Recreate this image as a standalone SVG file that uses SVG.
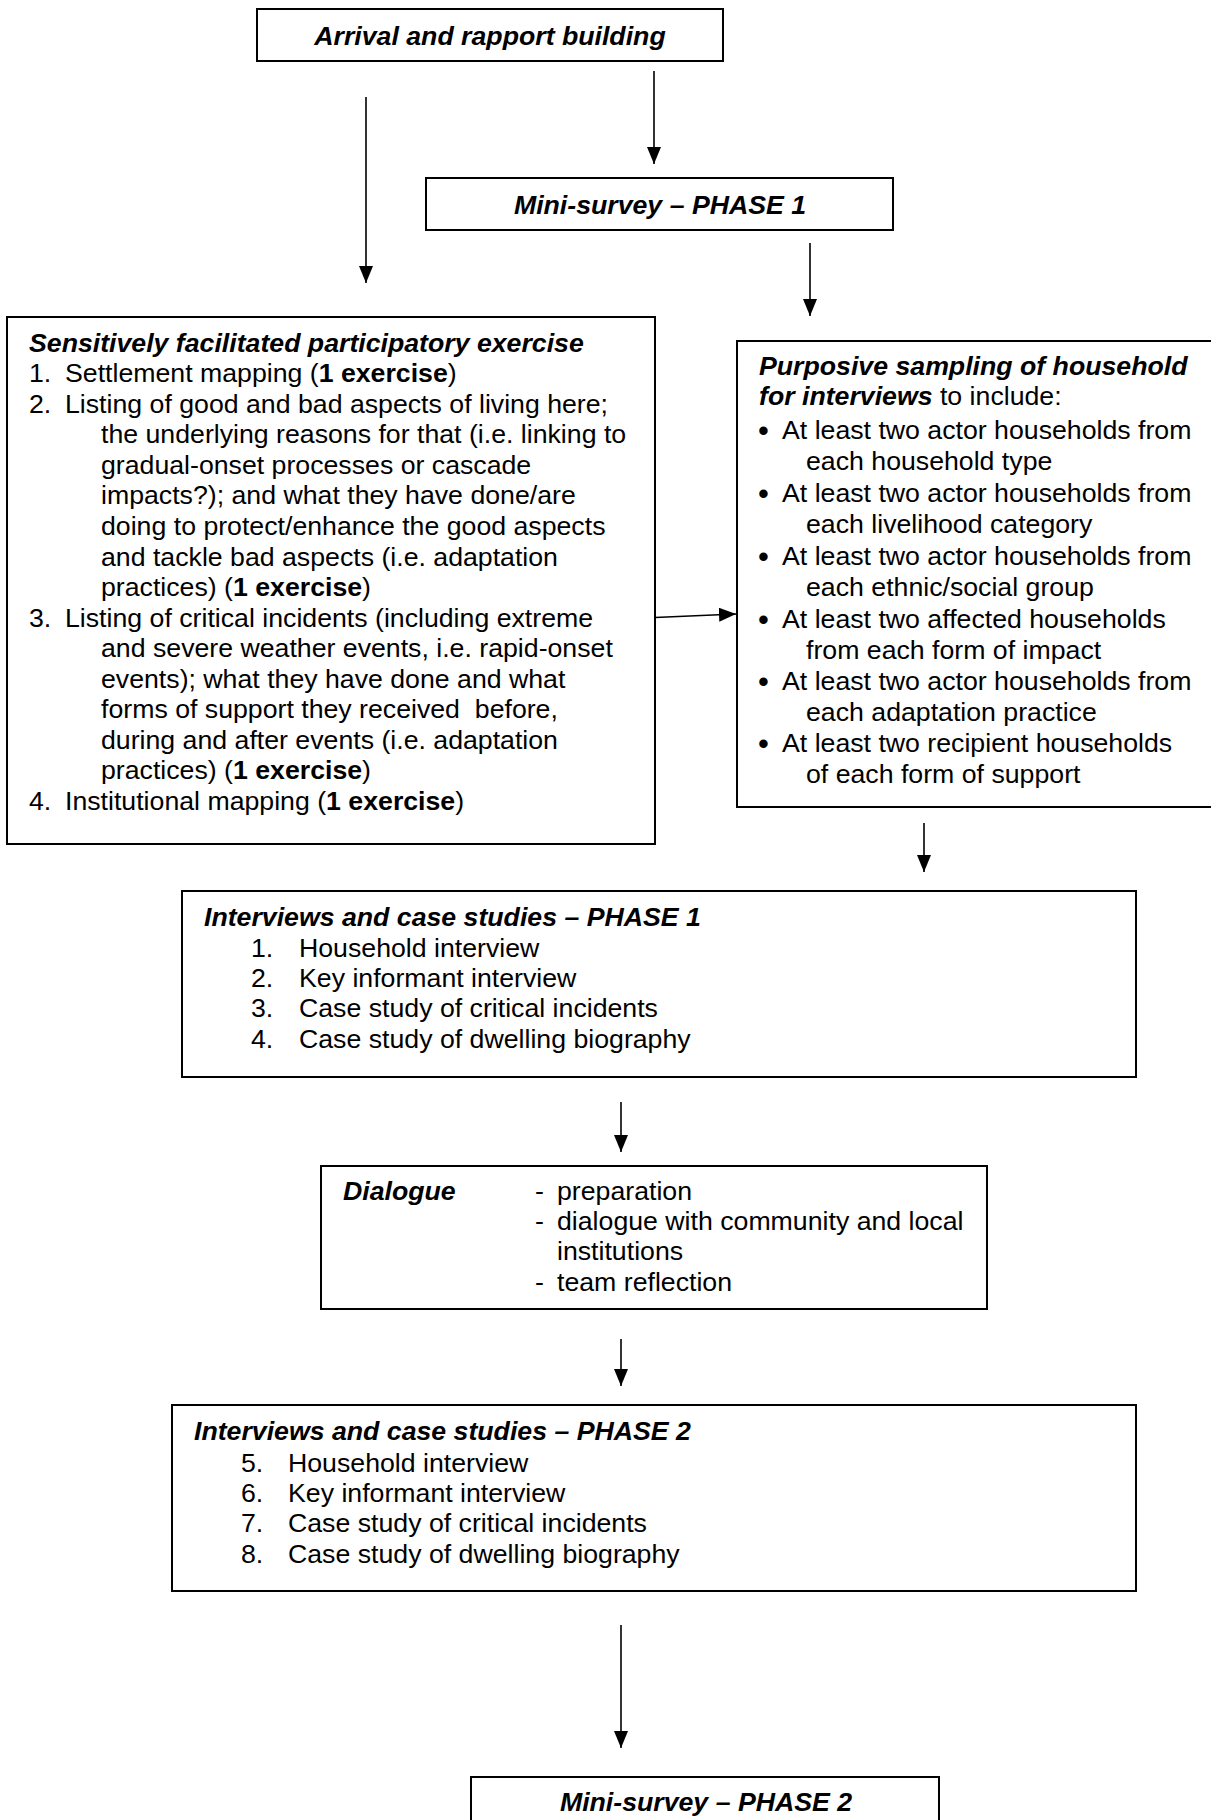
<svg xmlns="http://www.w3.org/2000/svg" width="1211" height="1820" viewBox="0 0 1211 1820">
<style>
text{font-family:"Liberation Sans",Arial,Helvetica,sans-serif;font-size:26.7px;fill:#000}
.bi{font-weight:bold;font-style:italic}
.b{font-weight:bold}
.bul{font-size:31px}
.box{fill:#fff;stroke:#000;stroke-width:2}
.arr{stroke:#000;stroke-width:1.6;fill:none}
.c{text-anchor:middle}
</style>
<defs>
<marker id="ah" markerUnits="userSpaceOnUse" markerWidth="18" markerHeight="14" viewBox="0 0 18 14" refX="17" refY="7" orient="auto">
<path d="M0,0 L17,7 L0,14 Z" fill="#000"/>
</marker>
</defs>
<rect width="1211" height="1820" fill="#fff"/>
<g id="connectors">
<line class="arr" x1="366" y1="97" x2="366" y2="283" marker-end="url(#ah)"/>
<line class="arr" x1="654" y1="71" x2="654" y2="164" marker-end="url(#ah)"/>
<line class="arr" x1="810" y1="243" x2="810" y2="316" marker-end="url(#ah)"/>
<line class="arr" x1="655" y1="617.5" x2="736" y2="614" marker-end="url(#ah)"/>
<line class="arr" x1="924" y1="823" x2="924" y2="872" marker-end="url(#ah)"/>
<line class="arr" x1="621" y1="1102" x2="621" y2="1152" marker-end="url(#ah)"/>
<line class="arr" x1="621" y1="1339" x2="621" y2="1386" marker-end="url(#ah)"/>
<line class="arr" x1="621" y1="1625" x2="621" y2="1748" marker-end="url(#ah)"/>
</g>
<g id="arrival">
<rect class="box" x="257" y="9" width="466" height="52"/>
<text class="bi c" x="490" y="45">Arrival and rapport building</text>
</g>
<g id="minisurvey1">
<rect class="box" x="426" y="178" width="467" height="52"/>
<text class="bi c" x="660" y="214">Mini-survey – PHASE 1</text>
</g>
<g id="participatory">
<rect class="box" x="7" y="317" width="648" height="527"/>
<text class="bi" x="29" y="352">Sensitively facilitated participatory exercise</text>
<text x="29" y="382">1.</text><text x="65" y="382">Settlement mapping (<tspan class="b">1 exercise</tspan>)</text>
<text x="29" y="413">2.</text><text x="65" y="413">Listing of good and bad aspects of living here;</text>
<text x="101" y="443">the underlying reasons for that (i.e. linking to</text>
<text x="101" y="474">gradual-onset processes or cascade</text>
<text x="101" y="504">impacts?); and what they have done/are</text>
<text x="101" y="535">doing to protect/enhance the good aspects</text>
<text x="101" y="566">and tackle bad aspects (i.e. adaptation</text>
<text x="101" y="596">practices) (<tspan class="b">1 exercise</tspan>)</text>
<text x="29" y="627">3.</text><text x="65" y="627">Listing of critical incidents (including extreme</text>
<text x="101" y="657">and severe weather events, i.e. rapid-onset</text>
<text x="101" y="688">events); what they have done and what</text>
<text x="101" y="718">forms of support they received&#160; before,</text>
<text x="101" y="749">during and after events (i.e. adaptation</text>
<text x="101" y="779">practices) (<tspan class="b">1 exercise</tspan>)</text>
<text x="29" y="810">4.</text><text x="65" y="810">Institutional mapping (<tspan class="b">1 exercise</tspan>)</text>
</g>
<g id="sampling">
<rect class="box" x="737" y="341" width="480" height="466"/>
<text class="bi" x="759" y="375">Purposive sampling of household</text>
<text x="759" y="405"><tspan class="bi">for interviews</tspan> to include:</text>
<text class="bul" x="758" y="441">•</text><text x="782" y="439">At least two actor households from</text>
<text x="806" y="470">each household type</text>
<text class="bul" x="758" y="504">•</text><text x="782" y="502">At least two actor households from</text>
<text x="806" y="533">each livelihood category</text>
<text class="bul" x="758" y="567">•</text><text x="782" y="565">At least two actor households from</text>
<text x="806" y="596">each ethnic/social group</text>
<text class="bul" x="758" y="630">•</text><text x="782" y="628">At least two affected households</text>
<text x="806" y="659">from each form of impact</text>
<text class="bul" x="758" y="692">•</text><text x="782" y="690">At least two actor households from</text>
<text x="806" y="721">each adaptation practice</text>
<text class="bul" x="758" y="754">•</text><text x="782" y="752">At least two recipient households</text>
<text x="806" y="783">of each form of support</text>
</g>
<g id="interviews1">
<rect class="box" x="182" y="891" width="954" height="186"/>
<text class="bi" x="204" y="926">Interviews and case studies – PHASE 1</text>
<text x="251" y="957">1.</text><text x="299" y="957">Household interview</text>
<text x="251" y="987">2.</text><text x="299" y="987">Key informant interview</text>
<text x="251" y="1017">3.</text><text x="299" y="1017">Case study of critical incidents</text>
<text x="251" y="1048">4.</text><text x="299" y="1048">Case study of dwelling biography</text>
</g>
<g id="dialogue">
<rect class="box" x="321" y="1166" width="666" height="143"/>
<text class="bi" x="343" y="1200">Dialogue</text>
<text x="535" y="1200">-</text><text x="557" y="1200">preparation</text>
<text x="535" y="1230">-</text><text x="557" y="1230">dialogue with community and local</text>
<text x="557" y="1260">institutions</text>
<text x="535" y="1291">-</text><text x="557" y="1291">team reflection</text>
</g>
<g id="interviews2">
<rect class="box" x="172" y="1405" width="964" height="186"/>
<text class="bi" x="194" y="1440">Interviews and case studies – PHASE 2</text>
<text x="241" y="1472">5.</text><text x="288" y="1472">Household interview</text>
<text x="241" y="1502">6.</text><text x="288" y="1502">Key informant interview</text>
<text x="241" y="1532">7.</text><text x="288" y="1532">Case study of critical incidents</text>
<text x="241" y="1563">8.</text><text x="288" y="1563">Case study of dwelling biography</text>
</g>
<g id="minisurvey2">
<rect class="box" x="471" y="1777" width="468" height="60"/>
<text class="bi c" x="706" y="1811">Mini-survey – PHASE 2</text>
</g>
</svg>
